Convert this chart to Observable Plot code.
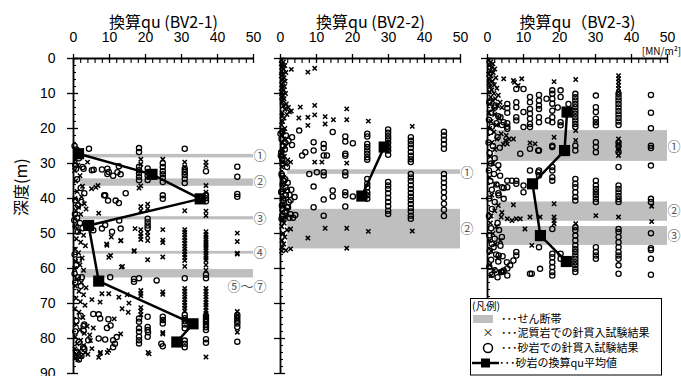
<!DOCTYPE html>
<html><head><meta charset="utf-8">
<script src="https://cdn.jsdelivr.net/npm/d3@7"></script>
<script src="https://cdn.jsdelivr.net/npm/@observablehq/plot@0.6"></script>
<style>
body{margin:0;background:#fff;}
#wrap{position:relative;width:681px;height:376px;overflow:hidden;font-family:"Noto Sans CJK JP",sans-serif;}
#legend{position:absolute;left:470px;top:298px;}
</style></head><body><div id="wrap"></div>
<script>
const panels = ["BV2-1", "BV2-2", "BV2-3"];
const titles = ["換算qu (BV2-1)", "換算qu (BV2-2)", "換算qu（BV2-3)"];
const xTicks = [0, 10, 20, 30, 40, 50];
const xMinor = [2,4,6,8,12,14,16,18,22,24,26,28,32,34,36,38,42,44,46,48];
const yTicks = [0, 10, 20, 30, 40, 50, 60, 70, 80, 90];
const yMinor = [2,4,6,8,12,14,16,18,22,24,26,28,32,34,36,38,42,44,46,48,52,54,56,58,62,64,66,68,72,74,76,78,82,84,86,88];

// ---- BV2-1 ----
const mean1 = [[1.4,27.2],[21.8,33.1],[35.2,40.1],[4.2,47.7],[7.0,63.6],[33.2,75.8],[28.7,81]];
const bands1 = [[27.4,28.4],[34.4,36.5],[45.2,46.1],[55.1,55.9],[60.3,62.7]];
const bandLabels1 = [["①",27.9],["②",35.3],["③",45.9],["④",55.6],["⑤～⑦",65.3]];
const mud1Cols = [
  [36.8,[29.6,30.6,36.3,38.2,43.6,44.9,49.5,50.3,51,51.7,52.4,53,53.6,54.2,54.9,55.6,56.3,57,57.7,59,60.5,65.7,66.5,67.3,68.1,68.9,69.7,70.4,71.2,72,72.8,73.5,74.3,75.7,85.3]],
  [30.9,[29.6,31,43.5,48.9,49.6,50.4,51.2,52,52.8,53.6,54.4,55.2,56,56.8,57.7,59.4,65.7,66.5,67.3,68.1,68.9,69.7,70.5,71.3,72.1,74.7]],
  [24.8,[28.8,48.9,51.9,52.6,56.7,66.7,67.4,74.7,78.3]],
  [45.5,[49.9,52.3,55.6,55.9,72.3,73.3,74.3,78.2]],
  [18.7,[28.8,30.2,36.4,42.3,43.5,48.9,50,50.8,51.7,66.3,67.1,67.8,71.2,72.2,73.2]],
  [20.6,[41.6,42.9,49.6,50.6,52,57.5]]
];
const mud1Pts = [[7,44.2],[10.5,51],[13.1,52.1],[17.1,48.6],[6.8,36.3],[6.2,36.8],[5,37.2],[3.9,29.6],[18.2,37],[9.3,53.4],[9.8,56.8],[13.3,59.6],[16.8,55.1],[7.9,67.2],[9.8,67.2],[7.4,69.6],[5.1,68.9],[12.6,68.2],[14.9,67.5],[15.4,69.9],[13.5,71.5],[15.2,72.5],[13.1,78.7],[9.8,83.4],[7.4,84.3],[7,85.4],[5.1,82.9],[21,84.4],[24.8,78.7],[9.2,53],[13.2,52],[10.3,56.3],[16.9,54.9],[13.6,59.4],[4.7,80.6],[7.5,84],[9.4,84],[20.7,84],[11.3,74.4],
  [0.5,29],[1.2,30.5],[0.3,32],[1.8,33.5],[0.6,35],[2.5,36.5],[1,38],[2.2,39.5],[0.4,40],[3,41.5],[1.4,42.5],[0.7,43.5],[2,44.5],[3.5,43],[0.5,48],[1.6,49.5],[2.8,50.5],[0.8,51.5],[2,52.5],[3.3,53.5],[0.5,54.5],[1.4,55.5],[2.4,57],[0.6,58],[1.8,59],[0.3,60],[2.8,60.5],[1,63],[2.2,64],[0.5,65],[3.5,65.5],[1.5,66.5],[2.8,67.5],[0.7,68.5],[1.9,69.5],[3.2,70.5],[0.4,71.5],[1.5,72.5],[2.6,74],[0.8,76],[1.8,77.5],[3,78.5],[0.5,79.5],[2,80.5],[1,81.5],[2.8,82],[0.4,83],[1.6,83.5],[3.2,84],[0.8,84.5],[2.2,85],[4,84.5],[1.2,86],[0.5,85.5],[4.5,79],[3.8,76.5],[5.5,77]];
const sand1Cols = [
  [24.8,[29.9,31,32.2,33.1,34.1,35.3,39.1,40.1,73.8,74.7,75.7,82.2]],
  [30.9,[25.8,31.5,32.4,33.3,34.3,35.6,62.8,73.3,74.2,75.1,76,77.1,80.6,81.5,82.5]],
  [36.8,[32.2,39,39.9,40.8,61.8,62.8,73.6,74.4,75.2,76,76.8,77.6,80.2,81.2]],
  [45.5,[30.9,33.8,38.7,39.5,73.3,74.1,74.9,75.7,76.7,80.9]],
  [18.2,[25.6,26.7,30.9,31.9,32.8,33.8,34.8,62.8,74.3,75.2,77.1,78.1,79.5,80.5,81.4]],
  [20.6,[31.4,32.5,33.5,34.7,45.8,46.8,47.7,48.5,73.8,76.7,77.6,79.5]],
  [16.8,[63,63.8]],
  [23.1,[63.4]]
];
const sand1Pts = [[4.3,25.8],[5.1,31.9],[7.9,31.7],[9.8,32.4],[12.6,30.8],[13.1,33.1],[11,33.5],[8.8,39.1],[9.6,40.6],[11.7,40.6],[12.6,41.3],[14.5,38.5],[5.5,49.1],[7.9,48.6],[8.8,47.6],[13.1,48.6],[10.7,49.5],[12.7,46.3],[2.3,62.5],[10.2,62.5],[5.5,73],[7,73.1],[7.4,74.3],[9.7,74.5],[9.3,77],[2.8,76.4],[2.8,77.8],[7,80],[8.8,80.3],[11,80.5],[12,79.6],[11.5,81.5],[11,82.5],[4.1,80.5],[2.7,82.5],[2.8,31.5],[5.6,31.8],[9.4,31.5],[9.4,33],[12.2,32.5],[8.5,39.1],[20.7,78.2],[24.4,81.5],[10.3,76.3],
  [0.3,25],[0.8,26],[1.5,28.5],[0.5,30.5],[2.5,31],[0.7,31.5],[1,34.5],[2,37],[3,38.5],[0.5,40.5],[2.2,41],[1.3,42],[0.4,44.5],[1,45.5],[0.2,46.2],[1.8,47],[0.6,48],[2.5,48.5],[1.2,49.5],[0.3,56],[1.5,57.5],[0.8,59],[0.3,61.5],[1.2,62.5],[0.5,64],[2,65],[0.8,75],[2,73.5],[3,76],[0.5,78],[1.5,81],[3,83],[0.9,84],[2.2,85],[1.5,86]];

// ---- BV2-2 ----
const mean2 = [[28.8,25.3],[22.6,39.3]];
const bands2 = [[31.8,33.1],[43.1,54.4]];
const bandLabels2 = [["①",32.7],["②",48.6]];
const mud2Pts = [[7.6,3.9],[9.5,2.8],[3,3.1],[5.5,13.9],[9.5,13.4],[7.6,16.8],[9.5,16.1],[5.1,17],[12.4,16.6],[14.7,17.5],[18.4,14.4],[18.4,17.5],[7.6,19.1],[12.4,18.7],[24.4,17.9],[36.6,19.4],[2.8,29.6],[9.5,29.6],[11.5,29.6],[18.4,29.9],[2.8,48.7],[7.6,51.3],[12.4,48.5],[18.4,48.5],[24.4,49.4],[36.6,49.3],[18.4,54.2],[2.8,54.4],
  [0.3,0.5],[0.8,1],[0.2,1.5],[1.2,2],[0.5,2.5],[0.9,3],[0.3,3.5],[1.5,4],[0.6,4.5],[0.2,5],[1,5.5],[0.4,6],[1.3,6.5],[0.7,7],[0.3,7.5],[1.1,8],[0.5,8.5],[0.9,9],[0.2,9.5],[1.4,10],[0.6,10.5],[0.3,11],[1,11.5],[0.7,12],[0.4,12.5],[1.6,13],[0.8,13.5],[2.2,14],[1.2,14.5],[3,15],[0.5,15.5],[2.5,15.2],[1.8,16],[0.4,16.5],[1,17],[0.6,18],[0.3,19],[1.2,20],[0.8,21],[0.4,22],[1,23],[0.5,24],[1.3,25],[0.7,26],[0.3,27],[1.1,28],[2,29],[0.6,29.5],[1.5,30.2],[0.4,31],[0.9,34],[0.5,36],[1.2,38],[0.4,40],[0.8,42],[0.3,44],[1.4,45],[0.6,46],[1,47],[0.3,48],[1.8,49],[0.7,50],[1.2,51],[0.4,52],[0.9,53],[0.5,54],[1.5,54.8],[0.3,55]];
const sand2Cols = [
  [24.1,[21.5,22.3,24.4,25.3,26.3,27.2,28.2,28.9,34.4,35.8,36.8,38.2,39.1,40.1]],
  [29.9,[20.3,21.2,22.2,23.1,24.1,25.3,26.3,27.5,35.3,36.3,37.3,38.5,39.8,41,42.2,43.5,44.4]],
  [36.2,[22.5,23.5,24.5,25.5,26.7,27.8,28.8,29.6,33,34,35,36.2,37.3,38.4,39.5,40.5,41.6,42.7,43.7,44.9,45.8]],
  [45.4,[20.9,22,23.2,24.5,25.8,33,34.2,35.5,36.8,38.2,39.8,41.5,43.2,45]],
  [18,[22.3,23.7,27.2,27.8,32.5,33.4,38.2,39.1,42.3]],
  [12,[24.4,25.6,27.7,32.5,33.4,40.3,44.9]],
  [9.2,[23.9,26.3,36.6,42.5]]
];
const sand2Pts = [[20.1,24.2],[20.1,39.4],[6.9,26.8],[6,27.7],[8,33],[10.1,32.5],[12.9,27.7],[14.5,21],[14.5,37.7],[14.5,39.4],[5.2,20.6],[3.2,22.5],[1.4,24.1],[3.2,24.7],[3.9,39.6],[4.1,44.7],[2.1,42.5],[2.3,41],[1.8,37.7],[1.4,36.8],[0,21.5],[0.2,26.8],[0.1,27.8],[0.3,33],[0.2,38.2],[0.3,45.8],[0.5,29],[1,35],[0.8,40],[1.6,43.5],[2.5,39],[3,37.5],[0.6,43],[2.8,44.5],
  [0.5,21],[1.5,22],[0.3,23],[2.2,23.5],[0.8,25],[1.2,26],[0.4,28],[0.6,30],[1.8,31],[0.4,33.5],[1.3,34.5],[0.6,36],[2,35.5],[0.3,38],[1.5,39],[0.7,40.5],[2.8,40.5],[0.4,42],[1.8,42.5],[1.2,44],[0.5,45],[2.5,45.5],[0.8,46],[3.5,45.5]];

// ---- BV2-3 ----
const mean3 = [[22.1,15.3],[21.4,26.3],[12.5,35.8],[14.7,50.6],[21.9,58]];
const bands3 = [[20.6,29.4],[41,46.5],[48,53.4]];
const bandLabels3 = [["①",25.3],["②",43.6],["③",50.6]];
const mud3Cols = [
  [36.4,[4.9,5.8,6.7,7.7,8.6,9.6,23,24.3,25.5,26.5,27.7,45.3]],
  [24.5,[6,20.6,23.4,47.2]],
  [45.6,[42.2,46.6]],
  [18.5,[6.6,22.5,41.5,45.3,46.3,47.2]]
];
const mud3Pts = [[11.8,24.1],[11.8,45.3],[10.4,48.7],[7.2,41.8],[6.8,46.3],[9.1,45.8],[14.6,45.3],[30.1,44.9],[3.8,45.3],[3.6,52],[4.5,5.8],[7.2,6.3],[9.5,5.8],[7.2,23],[13.2,24.4],[12.3,53.4],[5,23.4],[5.5,24.4],[8,45.8],[5.5,45.8],[8.5,7.7],[7.5,6.8],
  [0.3,0.5],[0.9,1],[1.5,1.5],[0.5,2],[1.2,2.5],[2,3],[0.7,3.5],[1.6,4],[0.3,4.5],[1,5],[2.3,5.5],[0.6,6],[1.4,6.5],[0.4,7],[1.9,7.5],[0.8,8],[2.6,8.5],[1.2,9],[0.5,9.5],[1.8,10],[3,10.5],[0.9,11],[2.2,11.5],[1.4,12],[3.5,12.5],[0.6,13],[2.8,13.5],[1.6,14.5],[4,14],[0.4,15.5],[2,16],[3.2,17],[1,18],[2.5,19],[0.6,20],[1.8,21],[3.8,21.5],[5.2,22],[2.6,23],[1.2,24],[4.4,24.5],[6,23],[2,26],[0.8,28],[1.5,30],[3,31.5],[0.6,34],[2.2,36],[1.2,39],[3,42],[2,43.5],[4,44],[1,45],[0.8,47],[2.5,48],[1.5,50],[0.6,52],[2.2,53],[1,55],[2.8,57],[0.6,59],[1.8,60.5],[3.5,61],[1,62]];
const sand3Cols = [
  [24.4,[10.1,11.1,12,13,13.9,14.9,15.8,16.8,17.7,18.7,19.6,24.9,26.3,34.4,35.8,36.8,38.2,39.6,40.6,48.2,49.1,50.6,52,53.4,54.4,55.3,56.3,57.2,58.2,59.1,60.1,61]],
  [30.1,[10.6,13.9,15.3,17.2,18.2,19.1,23.9,25.3,26.8,34.9,36.3,37.3,38.2,39.1,40.1,41,53.9,55.3,56.3,57.2]],
  [36.4,[10.1,11.1,12,13,14,15,16,17,18,19,24,25.1,26.7,31,36.3,37.3,38.3,39.3,40.2,41,48.7,49.6,51,52.5,53.9,55.3,56.3,57.2,59.1,61.5]],
  [45.4,[10.4,15.5,19.9,24.9,25.6,30.6,40.1,41,49.9,54.2,54.7,57.2,61.8]],
  [18,[9.1,10.1,11.5,12.9,14.9,16.8,18.2,24.9,25.3,31,32,33.9,34.9,48.7,55.8,56.8,58.2,59.6,61,62]],
  [14.3,[10.4,12,13.4,14.4,16.8,18.2,26.3,32,33.4,53.9]],
  [11.8,[11,12.5,14.4,15.8,17.2,18.7,19.6,25.8,32,61.5]],
  [8,[8.7,12.5,13.9,16.8,17.7,34.9,35.8,55.3,56.3]],
  [5.5,[13,14.2,15.5,18.5,19.5,20.1,34.9,36.8,60]],
  [10,[8.7,15.3,19.6,36.3,38.2]],
  [20.3,[9.1,11,18.2,19.1,55.8,57.2]]
];
const sand3Pts = [[16.4,11.5],[16.8,17.7],[9.1,27.2],[14.1,26.3],[14.1,32.5],[7.2,57.7],[6.3,59.1],[4.5,60.6],[14.6,60.1],[12.3,61.5],[22.5,13],[19.5,14],
  [2.2,13.4],[3.6,16.8],[4.5,18.2],[6.8,34.9],[4,36.8],[3.1,39.1],[4.5,40.1],[4,51],[1.7,53.9],[3.1,56.3],[5.4,58.2],[4,61],
  [0.5,12.5],[2,14],[1,15.5],[3,16.5],[0.4,17.5],[2.5,18.5],[1.2,19.5],[4,19],[0.8,21],[2.8,22.5],[0.3,24],[1.5,25],[3.4,25.5],[0.6,27],[2,28.5],[1,30],[3,30.5],[0.4,32],[1.8,33],[3.5,33.5],[0.8,35],[2.5,36],[4.5,37],[1.2,37.5],[3,38.5],[0.5,40],[2,41],[1.2,43],[0.4,45],[2.8,47],[1,48.5],[3.2,49],[0.5,50.5],[2,51.5],[1.2,53],[3.6,53.5],[0.6,55],[2.4,56],[4.2,56.5],[1,57.5],[3,58],[0.5,59.5],[2,60.5],[3.8,61],[1.2,61.8],[5.5,62],[2.8,62.5]];

// ---- build tables ----
const cols = (panel, list) => list.flatMap(([q, ds]) => ds.map(d => ({panel, q, d})));
const pts = (panel, list) => list.map(([q, d]) => ({panel, q, d}));
const mud = [...cols(panels[0], mud1Cols), ...pts(panels[0], mud1Pts), ...pts(panels[1], mud2Pts), ...cols(panels[2], mud3Cols), ...pts(panels[2], mud3Pts)];
const sand = [...cols(panels[0], sand1Cols), ...pts(panels[0], sand1Pts), ...cols(panels[1], sand2Cols), ...pts(panels[1], sand2Pts), ...cols(panels[2], sand3Cols), ...pts(panels[2], sand3Pts)];
const means = [...pts(panels[0], mean1), ...pts(panels[1], mean2), ...pts(panels[2], mean3)];
const bandRows = (panel, list) => list.map(([d1, d2]) => ({panel, d1, d2}));
const bands = [...bandRows(panels[0], bands1), ...bandRows(panels[1], bands2), ...bandRows(panels[2], bands3)];
const labRows = (panel, list) => list.map(([t, d]) => ({panel, t, d}));
const bandLabels = [...labRows(panels[0], bandLabels1), ...labRows(panels[1], bandLabels2), ...labRows(panels[2], bandLabels3)];
const titleRows = panels.map((p, i) => ({panel: p, t: titles[i]}));

const FONT = '"Noto Sans CJK JP", sans-serif';
const NUMFONT = '"Liberation Sans", Arial, sans-serif';
const blank = () => "";
const chart = Plot.plot({
  width: 681, height: 376,
  marginLeft: 72, marginRight: 14, marginTop: 58, marginBottom: 3,
  fx: {domain: panels, padding: 0.1325, axis: null},
  x: {domain: [0, 50]},
  y: {domain: [0, 90], reverse: true},
  style: {fontFamily: FONT, fontSize: "14px", color: "#000", background: "transparent", overflow: "visible"},
  marks: [
    Plot.rect(bands, {fx: "panel", x1: 2, x2: 50, y1: "d1", y2: "d2", fill: "#bfbfbf"}),
    Plot.text(bandLabels, {fx: "panel", x: 50, y: "d", text: "t", dx: 13, textAnchor: "end", fontSize: 13, fill: "#555"}),
    Plot.dot(mud, {fx: "panel", x: "q", y: "d", symbol: "times", r: 2.1, stroke: "#000", strokeWidth: 1.5}),
    Plot.dot(sand, {fx: "panel", x: "q", y: "d", symbol: "circle", r: 2.6, stroke: "#000", strokeWidth: 1.3, fill: "none"}),
    Plot.line(means, {fx: "panel", x: "q", y: "d", stroke: "#000", strokeWidth: 2.5}),
    Plot.dot(means, {fx: "panel", x: "q", y: "d", symbol: "square", r: 6.3, fill: "#000", stroke: "none"}),
    Plot.ruleX([0], {y1: 0, y2: 90, stroke: "#000", strokeWidth: 1.8}),
    Plot.ruleY([0], {x1: 0, x2: 50, stroke: "#000", strokeWidth: 1.8}),
    Plot.axisX({anchor: "top", ticks: xTicks, tickSize: 9, dy: 4, tickFormat: blank, label: null, strokeWidth: 1.3}),
    Plot.axisX({anchor: "top", ticks: xMinor, tickSize: 4, dy: 4, tickFormat: blank, label: null, strokeWidth: 1.1}),
    Plot.axisX({anchor: "top", ticks: xTicks, tickSize: 0, tickPadding: 17, label: null, fontSize: 14, fontFamily: NUMFONT}),
    Plot.axisY({anchor: "left", ticks: yTicks, tickSize: 11, dx: 5, tickFormat: blank, label: null, facetAnchor: null, strokeWidth: 1.3}),
    Plot.axisY({anchor: "left", ticks: yMinor, tickSize: 3, dx: 3, tickFormat: blank, label: null, facetAnchor: null, strokeWidth: 1.1}),
    Plot.axisY({anchor: "left", ticks: yTicks, tickSize: 0, tickPadding: 18, label: null, fontSize: 14, fontFamily: NUMFONT}),
    Plot.text(titleRows, {fx: "panel", frameAnchor: "top", dy: -42, text: "t", fontSize: 16}),
    Plot.text([{panel: panels[2]}], {fx: "panel", x: 50, frameAnchor: "top", dy: -11, dx: -6, text: () => "[MN/m²]", fontSize: 10}),
    Plot.text([{panel: panels[0]}], {fx: "panel", frameAnchor: "left", dx: -52, rotate: -90, text: () => "深度(m)", fontSize: 16})
  ]
});
const wrap = document.getElementById("wrap");
wrap.appendChild(chart);

// legend box
const legendItems = ["(凡例)", "･･･せん断帯", "･･･泥質岩での針貫入試験結果", "･･･砂岩での針貫入試験結果", "･･･砂岩の換算qu平均値"];
const lg = d3.select(wrap).append("svg").attr("id", "legend").attr("width", 192).attr("height", 78)
  .style("font-family", FONT);
lg.append("rect").attr("x", 0.5).attr("y", 0.5).attr("width", 191).attr("height", 76.5).attr("fill", "#fff").attr("stroke", "#000");
lg.append("text").attr("x", 2).attr("y", 8).attr("dy", "0.35em").attr("font-size", 10.5).text(legendItems[0]);
lg.append("rect").attr("x", 3).attr("y", 17).attr("width", 20).attr("height", 8).attr("fill", "#bfbfbf");
lg.append("text").attr("x", 18).attr("y", 35).attr("dy", "0.35em").attr("text-anchor", "middle").attr("font-size", 11).text("×");
lg.append("circle").attr("cx", 18).attr("cy", 50).attr("r", 4.5).attr("fill", "none").attr("stroke", "#000").attr("stroke-width", 1.5);
lg.append("line").attr("x1", 2).attr("x2", 29).attr("y1", 65).attr("y2", 65).attr("stroke", "#000").attr("stroke-width", 2.5);
lg.append("rect").attr("x", 11).attr("y", 60.5).attr("width", 9).attr("height", 9).attr("fill", "#000");
[[21, 1], [35, 2], [50, 3], [65, 4]].forEach(([y, i]) => {
  lg.append("text").attr("x", i === 4 ? 29 : 31).attr("y", y).attr("dy", "0.35em").attr("font-size", 11).text(legendItems[i]);
});
</script></body></html>
